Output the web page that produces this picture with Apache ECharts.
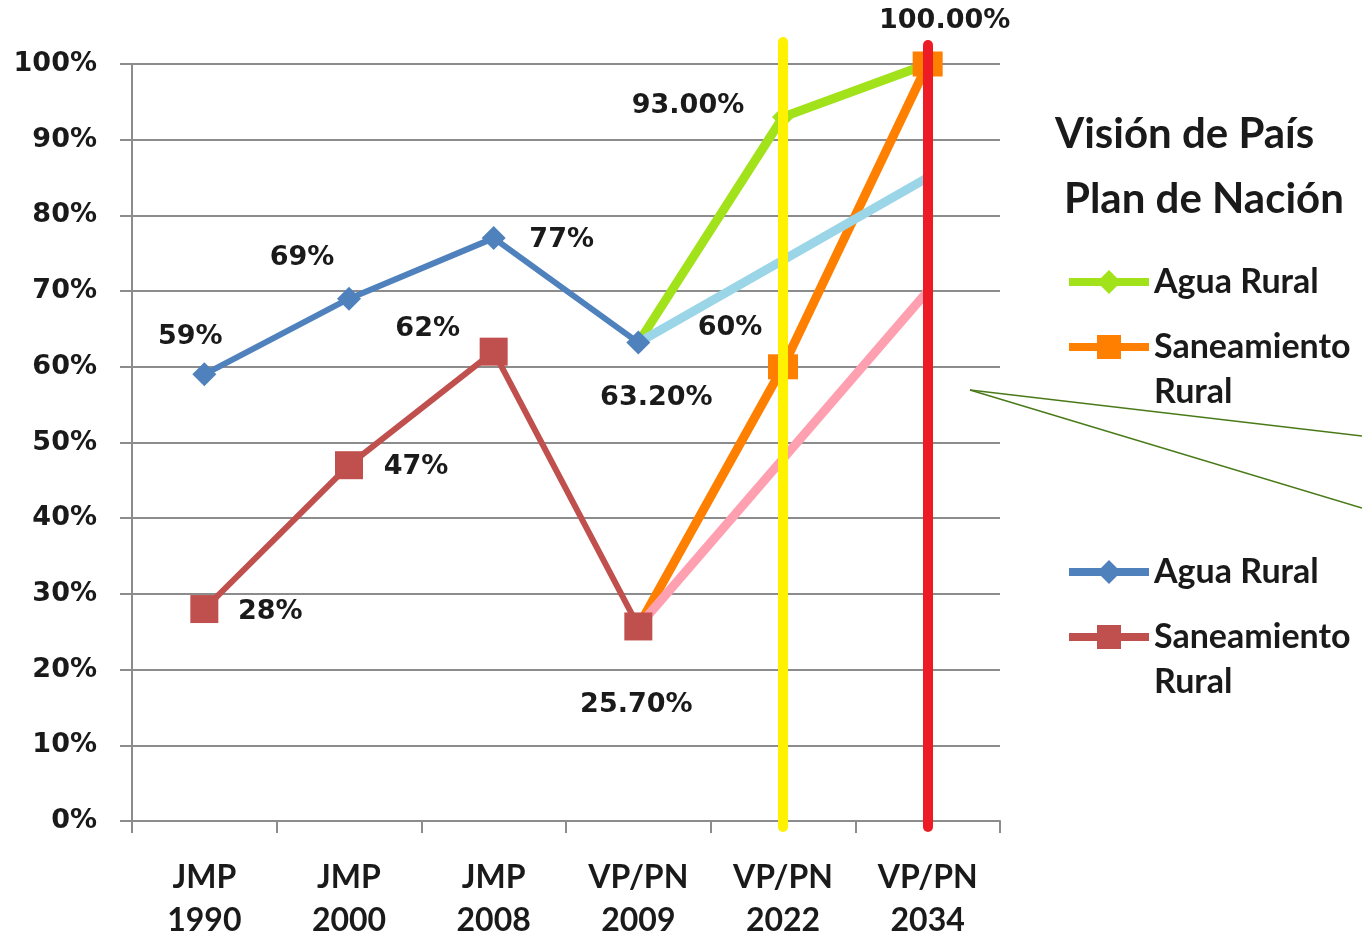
<!DOCTYPE html>
<html>
<head>
<meta charset="utf-8">
<script src="https://cdn.jsdelivr.net/npm/echarts@6/dist/echarts.min.js"></script>
<style>
html,body{margin:0;padding:0;background:#fff;}
#chart{width:1362px;height:942px;}
</style>
</head>
<body>
<div id="chart"></div>
<script>
// ---- data ----
var categories = ['JMP\n1990', 'JMP\n2000', 'JMP\n2008', 'VP/PN\n2009', 'VP/PN\n2022', 'VP/PN\n2034'];
var yTicks = [0, 10, 20, 30, 40, 50, 60, 70, 80, 90, 100];
var jmpAgua = [59, 69, 77, 63.2, null, null];
var jmpAguaLabels = ['59%', '69%', '77%', '63.20%', '', ''];
var jmpSaneamiento = [28, 47, 62, 25.7, null, null];
var jmpSaneamientoLabels = ['28%', '47%', '62%', '25.70%', '', ''];
var vpAgua = [null, null, null, 63.2, 93, 100];
var vpAguaLabels = ['', '', '', '', '93.00%', '100.00%'];
var vpSaneamiento = [null, null, null, 25.7, 60, 100];
var vpSaneamientoLabels = ['', '', '', '', '60%', ''];
var aguaTrend = [null, null, null, 63.2, null, 85];
var saneamientoTrend = [null, null, null, 25.7, null, 70];
var markerYears = ['VP/PN\n2022', 'VP/PN\n2034'];
var markerTops = [103, 102.6];
var seriesNames = ['Agua Rural', 'Saneamiento', 'Rural'];
var legendTitles = ['Visión de País', 'Plan de Nación'];

// ---- styles (positions only) ----
var jmpAguaOffsets = [[-14, -37], [-47, -41], [68, 2], [18, 55]];
var jmpSanOffsets = [[66, 3], [67, 2], [-66, -23], [-2, 79]];
var vpAguaOffsets = {4: [-95, -11], 5: [17, -43]};
var vpSanOffsets = {4: [-53, -39]};
var labelFont = {fontFamily: 'DejaVu Sans', fontWeight: 'bold', fontSize: 27, color: '#1a1a1a'};

function buildData(values, labels, offsets, hideIdx) {
  return values.map(function (v, i) {
    if (v == null) return null;
    var item = {value: v};
    if (hideIdx && hideIdx.indexOf(i) >= 0) { item.symbol = 'none'; }
    var off = offsets ? offsets[i] : null;
    if (labels && labels[i] && off) {
      item.label = Object.assign({show: true, position: 'inside', offset: off, formatter: labels[i]}, labelFont);
    } else {
      item.label = {show: false};
    }
    return item;
  });
}

var chart = echarts.init(document.getElementById('chart'), null, {renderer: 'canvas'});

var names = {
  'VP Agua': seriesNames[0], 'VP San': ' \n' + seriesNames[1] + '\n' + seriesNames[2],
  'JMP Agua': seriesNames[0], 'JMP San': ' \n' + seriesNames[1] + '\n' + seriesNames[2]
};
var legendBase = {
  orient: 'vertical', left: 1065, padding: 0, itemWidth: 80, itemHeight: 30,
  selectedMode: false,
  lineStyle: {width: 8},
  formatter: function (n) { return names[n]; },
  textStyle: {fontFamily: 'Lato', fontWeight: 'bold', fontSize: 34, color: '#1a1a1a', lineHeight: 45}
};
function mkLegend(name, top) {
  return Object.assign({}, legendBase, {data: [name], top: top});
}

var mi0 = categories.indexOf(markerYears[0]);
var mi1 = categories.indexOf(markerYears[1]);

var titleStyle = {fontFamily: 'Lato', fontWeight: 'bold', fontSize: 42, color: '#1a1a1a'};
var option = {
  animation: false,
  backgroundColor: '#ffffff',
  title: [
    {text: legendTitles[0], left: 1055, top: 113, padding: 0, textStyle: titleStyle},
    {text: legendTitles[1], left: 1064, top: 178, padding: 0, textStyle: titleStyle}
  ],
  legend: [
    mkLegend('VP Agua', 282 - 22.5),
    mkLegend('VP San', 347 - 67.5),
    mkLegend('JMP Agua', 572 - 22.5),
    mkLegend('JMP San', 637 - 67.5)
  ],
  grid: [
    {left: 132, right: 362, top: 64, bottom: 115},
    {left: 132, right: 362, top: 42, bottom: 115}
  ],
  xAxis: [
    {
      type: 'category', data: categories, boundaryGap: true, gridIndex: 0,
      axisLine: {lineStyle: {color: '#8c8c8c', width: 2}},
      axisTick: {show: true, interval: 0, length: 12, lineStyle: {color: '#8c8c8c', width: 2}},
      axisLabel: {interval: 0, margin: 35, lineHeight: 43, fontFamily: 'Lato', fontWeight: 'bold', fontSize: 32, color: '#1a1a1a'},
      splitLine: {show: false}
    },
    {
      type: 'category', data: categories, boundaryGap: true, gridIndex: 1, show: false
    }
  ],
  yAxis: [
    {
      type: 'value', min: 0, max: 100, interval: 10, gridIndex: 0,
      axisLine: {show: true, lineStyle: {color: '#8c8c8c', width: 2}},
      axisTick: {show: true, length: 12, lineStyle: {color: '#8c8c8c', width: 2}},
      axisLabel: {margin: 35, formatter: '{value}%', fontFamily: 'DejaVu Sans', fontWeight: 'bold', fontSize: 27, color: '#1a1a1a'},
      splitLine: {show: true, lineStyle: {color: '#8c8c8c', width: 2}}
    },
    {
      type: 'value', min: 0, max: 103, gridIndex: 1, show: false, splitLine: {show: false}
    }
  ],
  series: [
    {
      name: 'JMP Agua', type: 'line', data: buildData(jmpAgua, jmpAguaLabels, jmpAguaOffsets),
      symbol: 'diamond', symbolSize: 24, showAllSymbol: true,
      lineStyle: {color: '#4f81bd', width: 6}, itemStyle: {color: '#4f81bd'}
    },
    {
      name: 'JMP San', type: 'line', data: buildData(jmpSaneamiento, jmpSaneamientoLabels, jmpSanOffsets),
      symbol: 'rect', symbolSize: 28, showAllSymbol: true,
      lineStyle: {color: '#c0504d', width: 6}, itemStyle: {color: '#c0504d'}
    },
    {
      name: 'VP Agua', type: 'line', data: buildData(vpAgua, vpAguaLabels, vpAguaOffsets, [3]),
      symbol: 'diamond', symbolSize: 22, showAllSymbol: true,
      lineStyle: {color: '#a2e21a', width: 9}, itemStyle: {color: '#a2e21a'}
    },
    {
      name: 'VP San', type: 'line', data: buildData(vpSaneamiento, vpSaneamientoLabels, vpSanOffsets, [3]),
      symbol: 'rect', symbolSize: [30, 25], showAllSymbol: true,
      lineStyle: {color: '#ff7f00', width: 9}, itemStyle: {color: '#ff7f00'}
    },
    {
      name: 'Tendencia Agua', type: 'line', data: aguaTrend, connectNulls: true,
      symbol: 'none', lineStyle: {color: '#9ad6e8', width: 9, cap: 'round'}, itemStyle: {color: '#9ad6e8'}
    },
    {
      name: 'Tendencia Saneamiento', type: 'line', data: saneamientoTrend, connectNulls: true,
      symbol: 'none', lineStyle: {color: '#ffa0b0', width: 9, cap: 'round'}, itemStyle: {color: '#ffa0b0'}
    },
    {
      name: 'Marcadores', type: 'line', xAxisIndex: 1, yAxisIndex: 1, data: [], z: 10,
      markLine: {
        silent: true, symbol: ['none', 'none'], animation: false,
        label: {show: false},
        data: [
          [{coord: [mi0, 0], lineStyle: {color: '#fff200', width: 10, type: 'solid', cap: 'round'}},
           {coord: [mi0, markerTops[0]]}],
          [{coord: [mi1, 0], lineStyle: {color: '#ed1c24', width: 10, type: 'solid', cap: 'round'}},
           {coord: [mi1, markerTops[1]]}]
        ]
      }
    }
  ],
  graphic: [
    {type: 'line', silent: true, shape: {x1: 970, y1: 390, x2: 1362, y2: 436}, style: {stroke: '#4a7a18', lineWidth: 1.5}},
    {type: 'line', silent: true, shape: {x1: 970, y1: 390, x2: 1362, y2: 508}, style: {stroke: '#4a7a18', lineWidth: 1.5}}
  ]
};
chart.setOption(option);
</script>
</body>
</html>
